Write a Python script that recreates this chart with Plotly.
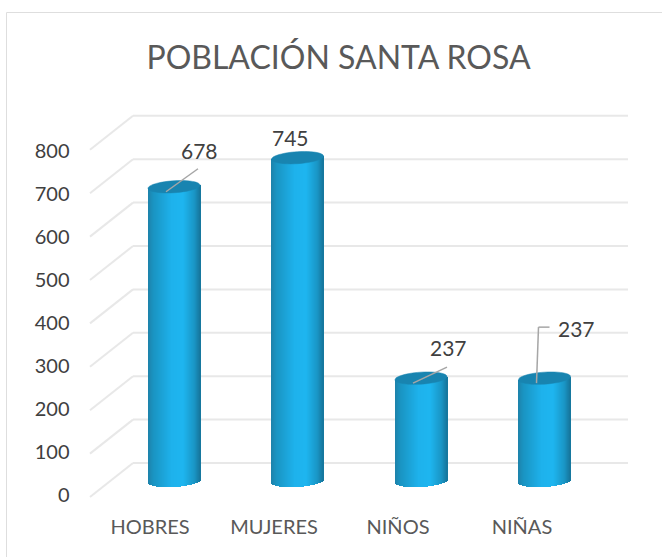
import math
import plotly.graph_objects as go

categories = ["HOBRES", "MUJERES", "NIÑOS", "NIÑAS"]
values = [678, 745, 237, 237]
labels = ["678", "745", "237", "237"]
tick_values = [0, 100, 200, 300, 400, 500, 600, 700, 800]
title_text = "POBLACIÓN SANTA ROSA"

W, H = 662, 557
FONT = "Lato, Carlito, sans-serif"
# primary scale: px per unit and pixel position of the cylinders' base centre
SCALE = 0.434
BASE_PX = 481
SPACING = 123.5
CENTER0 = 174
HALF = 26
CAP = 6.0
TILT = 1.6


def mix(a, b, t):
    return tuple(a[i] + (b[i] - a[i]) * t for i in range(3))


def shade(u):
    stops = [(-1.0, (30, 130, 170)), (-0.8, (26, 148, 194)), (-0.1, (30, 178, 236)),
             (0.35, (30, 182, 240)), (0.78, (26, 150, 198)), (1.0, (22, 118, 156))]
    for (u0, c0), (u1, c1) in zip(stops, stops[1:]):
        if u <= u1:
            c = mix(c0, c1, (u - u0) / (u1 - u0))
            return "rgb(%d,%d,%d)" % c
    return "rgb(22,118,156)"


fig = go.Figure()

# the invisible trace keeps the offset label axes alive
fig.add_trace(go.Scatter(x=categories, y=tick_values[:4], xaxis="x2", yaxis="y2", mode="markers",
                         marker=dict(opacity=0), showlegend=False, hoverinfo="skip"))

# cylinder bodies: one thin bar per pixel column, drawn from the values
for i in range(2 * HALF):
    u = (i + 0.5 - HALF) / HALF
    drop = CAP * math.sqrt(max(0, 1 - u * u)) - TILT * u
    base_v = -drop / SCALE
    tops = [v + TILT * u / SCALE - base_v for v in values]
    fig.add_trace(go.Bar(x=categories, y=tops, base=[base_v] * len(values),
                         width=1.6 / SPACING, offset=(i - HALF) / SPACING,
                         marker=dict(color=shade(u), line=dict(width=0)),
                         showlegend=False, hoverinfo="skip"))

shapes = []
# frame
shapes.append(dict(type="line", xref="paper", yref="paper", x0=6.5 / W, x1=1, y0=1 - 12.5 / H, y1=1 - 12.5 / H,
                   line=dict(color="#dedede", width=1), layer="below"))
shapes.append(dict(type="line", xref="paper", yref="paper", x0=6.5 / W, x1=6.5 / W, y0=0, y1=1 - 12.5 / H,
                   line=dict(color="#dedede", width=1), layer="below"))

# 3-D gridlines, anchored to the value axis
back_shift = (BASE_PX - 463) / SCALE
front_shift = (BASE_PX - 497) / SCALE
for t in tick_values:
    shapes.append(dict(type="line", xref="paper", yref="y", x0=133 / W, x1=628 / W,
                       y0=t + back_shift, y1=t + back_shift,
                       line=dict(color="#e8e8e8", width=2), layer="below"))
    shapes.append(dict(type="line", xref="paper", yref="y", x0=90 / W, x1=133 / W,
                       y0=t + front_shift, y1=t + back_shift,
                       line=dict(color="#e8e8e8", width=2), layer="below"))

# cylinder caps
pts = []
for k in range(48):
    a = 2 * math.pi * k / 48
    px = HALF * math.cos(a)
    py = CAP * math.sin(a) + TILT * math.cos(a)
    pts.append(("M" if k == 0 else "L") + " %.2f %.2f" % (px, py))
cap_path = " ".join(pts) + " Z"
for i, v in enumerate(values):
    shapes.append(dict(type="path", path=cap_path, xsizemode="pixel", ysizemode="pixel",
                       xanchor=i, yanchor=v, xref="x", yref="y",
                       fillcolor="#1884b0", line=dict(color="#1884b0", width=0.5), layer="above"))

# leader lines: pixel offsets from each cylinder's top centre
leaders = {0: [(-8, -5), (24, 18)], 2: [(-8, -5), (26, 11)], 3: [(-8, -5), (-6, 51), (5, 51)]}
for i, seg in leaders.items():
    for (a, b) in zip(seg, seg[1:]):
        shapes.append(dict(type="line", xsizemode="pixel", ysizemode="pixel", xanchor=i, yanchor=values[i],
                           xref="x", yref="y", x0=a[0], x1=b[0], y0=a[1], y1=b[1],
                           line=dict(color="#a6a6a6", width=1.5), layer="above"))

# data labels, anchored on the values
label_shift = [(25, 36), (-7, 20), (27, 31), (32, 50)]
annotations = []
for i, (v, s) in enumerate(zip(values, labels)):
    annotations.append(dict(x=i, y=v, xref="x", yref="y", text=s, showarrow=False,
                            xshift=label_shift[i][0], yshift=label_shift[i][1],
                            font=dict(family=FONT, size=21, color="#404040")))

fig.update_layout(
    width=W, height=H, autosize=False,
    margin=dict(l=0, r=0, t=0, b=0),
    paper_bgcolor="white", plot_bgcolor="white",
    barmode="overlay", bargap=0,
    showlegend=False,
    title=dict(text=title_text, x=338.5 / W, xanchor="center", y=1 - 58 / H, yanchor="middle",
               font=dict(family=FONT, size=32, color="#595959")),
    xaxis=dict(type="category", categoryorder="array", categoryarray=categories,
               range=[-CENTER0 / SPACING, (W - CENTER0) / SPACING],
               domain=[0, 1], showgrid=False, zeroline=False, showline=False, showticklabels=False, ticks=""),
    yaxis=dict(range=[-(H - BASE_PX) / SCALE, BASE_PX / SCALE], domain=[0, 1],
               showgrid=False, zeroline=False, showline=False, showticklabels=False, ticks=""),
    xaxis2=dict(type="category", categoryorder="array", categoryarray=categories, overlaying="x",
                anchor="free", position=(H - 513) / H, side="bottom",
                range=[-150 / 124, (W - 150) / 124],
                showgrid=False, zeroline=False, showline=False, ticks="",
                tickfont=dict(family=FONT, size=20, color="#595959")),
    yaxis2=dict(overlaying="y", anchor="free", position=69.5 / W, side="left",
                range=[-(H - 495) / 0.43, 495 / 0.43],
                tickmode="array", tickvals=tick_values, ticktext=[str(t) for t in tick_values],
                showgrid=False, zeroline=False, showline=False, ticks="",
                tickfont=dict(family=FONT, size=20, color="#404040")),
    shapes=shapes,
    annotations=annotations,
)

fig.write_html("out.html", post_script="document.body.style.margin='0';",
               config={"displayModeBar": False})
